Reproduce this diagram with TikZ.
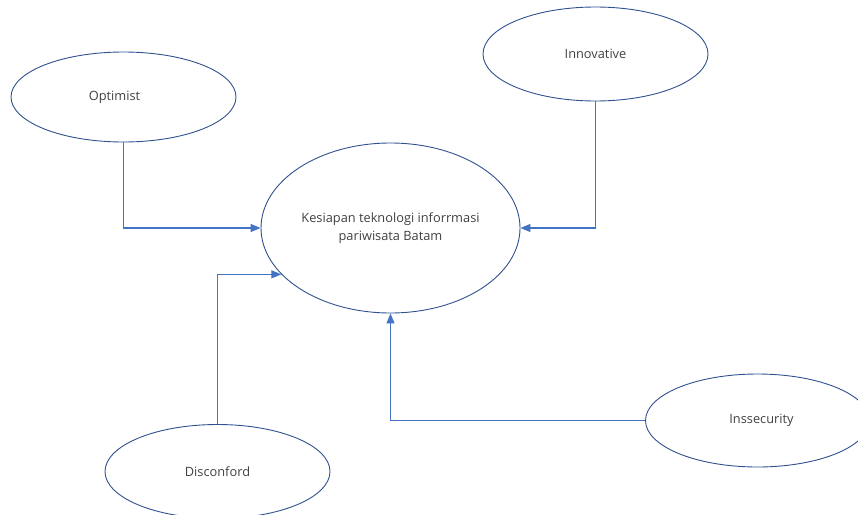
\documentclass[tikz,border=0pt]{standalone}
\usepackage{fontspec}
\setmainfont{Open Sans}
\usetikzlibrary{arrows.meta,shapes.geometric}
\definecolor{edgeblue}{HTML}{2F528F}
\definecolor{linkblue}{HTML}{4472C4}
\definecolor{txt}{HTML}{404040}
\begin{document}
\begin{tikzpicture}[x=1pt,y=-1pt,
  oval/.style={ellipse,draw=edgeblue,line width=0.9pt,inner sep=0pt,text=txt,font=\fontsize{12.8}{18}\selectfont,align=center},
  link/.style={draw=linkblue,line width=1.2pt,-{Triangle[length=10pt,width=8pt]}}]
\useasboundingbox (0,0) rectangle (858,514);
\node[oval,minimum width=225pt,minimum height=90pt] (opt) at (123.5,97) {\hspace*{-18pt}Optimist};
\node[oval,minimum width=225pt,minimum height=94pt] (inno) at (595.5,54) {Innovative};
\node[oval,minimum width=259pt,minimum height=170pt] (main) at (390.5,228) {Kesiapan teknologi inforrmasi\\pariwisata Batam};
\node[oval,minimum width=224pt,minimum height=93pt] (inss) at (757.5,420.5) {\hspace*{8pt}Inssecurity};
\node[oval,minimum width=225pt,minimum height=94pt] (disc) at (217.5,471.5) {Disconford};
\draw[link] (opt.south) |- (main.west);
\draw[link] (inno.south) |- (main.east);
\draw[link] (disc.north) |- (main.203.5);
\draw[link] (inss.west) -| (main.south);
\end{tikzpicture}
\end{document}
